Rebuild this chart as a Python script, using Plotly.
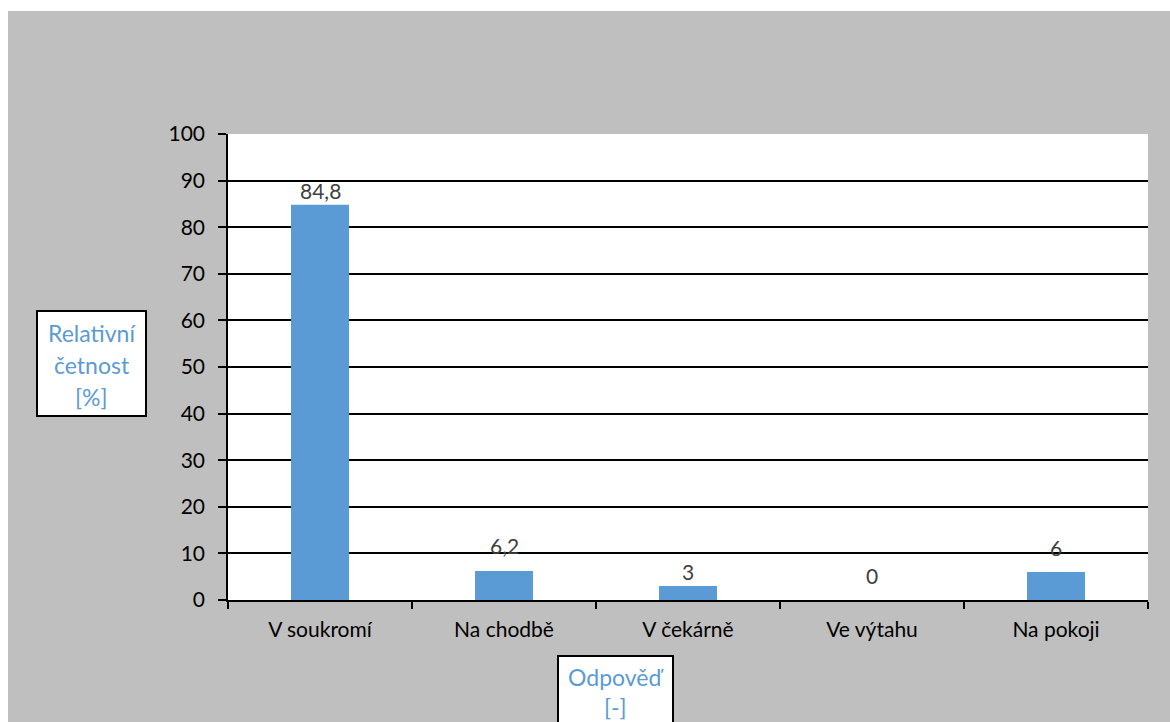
import plotly.graph_objects as go

categories = ["V soukromí", "Na chodbě", "V čekárně", "Ve výtahu", "Na pokoji"]
values = [84.8, 6.2, 3, 0, 6]
value_labels = ["84,8", "6,2", "3", "0", "6"]
y_title_lines = ["Relativní", "četnost", "[%]"]
x_title_lines = ["Odpověď", "[-]"]

# pixel offsets of the value labels above the bar tops (styling, not data)
label_shift = [14, 26, 15, 25, 25]

W, H = 1170, 722
L, R, T, B = 228, 22, 134, 122
PW, PH = W - L - R, H - T - B

def px(x):
    return (x - L) / PW

def py(y):
    return (H - B - y) / PH

FONT = "Lato"
BLUE = "#5B9BD5"
FS = 21

fig = go.Figure(go.Bar(
    x=categories, y=values,
    marker=dict(color=BLUE, line=dict(width=0)),
    cliponaxis=False,
))

shapes = [
    dict(type="rect", xref="paper", yref="paper", x0=px(0), x1=px(8), y0=py(H + 5), y1=py(-5),
         fillcolor="white", line=dict(width=0), layer="above"),
    dict(type="rect", xref="paper", yref="paper", x0=px(0), x1=px(W + 5), y0=py(11), y1=py(-5),
         fillcolor="white", line=dict(width=0), layer="above"),
    dict(type="rect", xref="paper", yref="paper", x0=px(37), x1=px(146), y0=py(416), y1=py(311),
         fillcolor="white", line=dict(color="black", width=2), layer="above"),
    dict(type="rect", xref="paper", yref="paper", x0=px(558), x1=px(673), y0=py(740), y1=py(656),
         fillcolor="white", line=dict(color="black", width=2), layer="above"),
]

annotations = []
for c, v, t, s in zip(categories, values, value_labels, label_shift):
    annotations.append(dict(text=t, x=c, y=v, xref="x", yref="y", yshift=s, showarrow=False,
                            xanchor="center", yanchor="middle",
                            font=dict(color="#404040", size=FS, family=FONT)))
for i, t in enumerate(y_title_lines):
    annotations.append(dict(text=t, xref="paper", yref="paper", x=px(91.5), y=py(333 + 32 * i),
                            showarrow=False, xanchor="center", yanchor="middle",
                            font=dict(color=BLUE, size=23, family=FONT)))
for i, t in enumerate(x_title_lines):
    annotations.append(dict(text=t, xref="paper", yref="paper", x=px(615.5), y=py(677 + 30 * i),
                            showarrow=False, xanchor="center", yanchor="middle",
                            font=dict(color=BLUE, size=23, family=FONT)))

fig.update_layout(
    width=W, height=H,
    margin=dict(l=L, r=R, t=T, b=B, pad=0),
    paper_bgcolor="#BFBFBF",
    plot_bgcolor="white",
    separators=", ",
    showlegend=False,
    bargap=0.685,
    font=dict(family=FONT, size=FS, color="black"),
    shapes=shapes,
    annotations=annotations,
    xaxis=dict(showline=True, linecolor="black", linewidth=1.5, ticks="outside",
               tickson="boundaries", ticklen=7, tickwidth=1.5, tickcolor="black",
               showgrid=False, tickfont=dict(size=FS, family=FONT, color="black"),
               ticklabelstandoff=10),
    yaxis=dict(range=[0, 100], dtick=10, showline=True, linecolor="black", linewidth=1.5,
               ticks="outside", ticklen=8, tickwidth=1.5, tickcolor="black",
               showgrid=True, gridcolor="black", gridwidth=1.5, zeroline=False,
               tickfont=dict(size=FS, family=FONT, color="black"), ticklabelstandoff=9),
)

fig.write_html("out.html")
